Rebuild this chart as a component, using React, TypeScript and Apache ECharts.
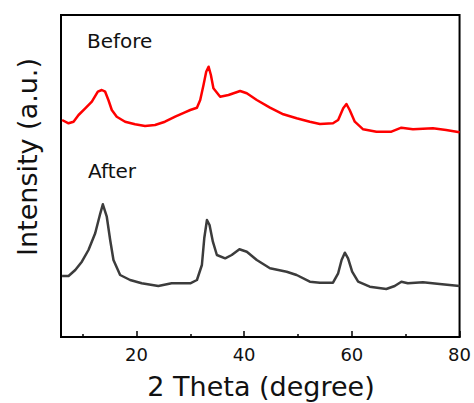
import React, { useEffect, useRef } from "react";
import * as echarts from "echarts";

const beforeX = [6.2, 7.4, 8.33, 9.26, 10.5, 11.73, 12.84, 13.58, 14.2, 14.8, 15.43, 16.35, 17.9, 19.75, 21.6, 23.46, 25.3, 27.2, 29.0, 30.0, 31.24, 31.85, 32.46, 32.96, 33.4, 33.83, 34.3, 35.55, 37.1, 39.26, 40.5, 42.35, 44.8, 47.28, 49.75, 52.2, 54.07, 56.5, 57.46, 58.4, 59.0, 59.6, 60.55, 62.1, 64.57, 67.35, 69.2, 71.35, 75.06, 77.5, 80];
const beforeY = [217, 213.7, 215.3, 222, 228.7, 235.3, 245.3, 247, 245.3, 237, 227, 220.3, 215.3, 212.7, 211, 212, 215.3, 220.3, 224.7, 227, 229.3, 237, 252, 265.3, 270.3, 262, 248.7, 240.3, 242, 246, 243.7, 237, 229.3, 222.7, 218.7, 215.3, 213, 213.7, 217, 228.7, 233, 227, 215.3, 207.7, 205.3, 205.3, 209.3, 207.7, 208.7, 207, 204.7];
const afterX = [6.2, 7.4, 8.65, 9.87, 11.1, 12.35, 13.3, 13.77, 14.5, 15.13, 15.74, 16.98, 18.83, 20.98, 24.07, 26.54, 29.0, 30.0, 31.24, 32.16, 32.6, 33.1, 33.58, 34.2, 34.94, 36.48, 37.7, 39.13, 40.5, 42.35, 44.8, 47.9, 49.75, 52.2, 54.07, 56.5, 57.46, 58.1, 58.7, 59.3, 60.06, 61.17, 63.33, 66.4, 67.96, 69.2, 70.4, 73.2, 76.3, 80];
const afterY = [61, 61, 67, 75.3, 87, 103.7, 123.7, 132.7, 120.3, 97, 77, 62, 57, 53.7, 51, 53.7, 53.7, 53.7, 57, 72, 98.7, 117, 112, 95.3, 82, 78.7, 82, 87.7, 85.3, 77, 68.7, 65.3, 62, 55.3, 54.3, 54.3, 63.7, 77, 84.3, 78.7, 65.3, 55.3, 50.3, 48, 51, 55.3, 53.7, 54.7, 53, 51];
const majorTicks = [20, 40, 60, 80];
const minorTicks = [10, 30, 50, 70];
const xTitle = "2 Theta (degree)";
const yTitle = "Intensity (a.u.)";
const labels = ["Before", "After"];

export default function App() {
  const ref = useRef<HTMLDivElement>(null);
  useEffect(() => {
    const chart = echarts.init(ref.current!, null, { renderer: "svg" });
    const font = "DejaVu Sans";
    chart.setOption({
      animation: false,
      grid: { left: 61, right: 14, top: 15, bottom: 66, show: true, borderColor: "#000", borderWidth: 2, backgroundColor: "transparent" },
      xAxis: [
        {
          type: "value", min: 6, max: 80,
          axisLine: { show: true, lineStyle: { color: "#000", width: 2 } },
          axisTick: { show: true, inside: true, length: 6, lineStyle: { color: "#000", width: 1.5 }, customValues: majorTicks },
          axisLabel: { show: true, customValues: majorTicks, margin: 8, color: "#111", fontSize: 18, fontFamily: font },
          splitLine: { show: false },
        },
        {
          type: "value", min: 6, max: 80, position: "bottom",
          axisLine: { show: false },
          axisTick: { show: true, inside: true, length: 3, lineStyle: { color: "#000", width: 1.5 }, customValues: minorTicks },
          axisLabel: { show: false },
          splitLine: { show: false },
        },
      ],
      yAxis: {
        type: "value", min: 0, max: 322,
        axisLine: { show: true, lineStyle: { color: "#000", width: 2 } },
        axisTick: { show: false }, axisLabel: { show: false }, splitLine: { show: false },
      },
      series: [
        { type: "line", data: beforeX.map((x, i) => [x, beforeY[i]]), showSymbol: false, symbol: "none", lineStyle: { color: "#ff0000", width: 2.5, join: "round" } },
        { type: "line", data: afterX.map((x, i) => [x, afterY[i]]), showSymbol: false, symbol: "none", lineStyle: { color: "#3c3c3c", width: 2.5, join: "round" } },
      ],
      graphic: [
        { type: "text", left: 87, top: 31, style: { text: labels[0], fontSize: 20, fontFamily: font, fill: "#111" } },
        { type: "text", left: 88, top: 161, style: { text: labels[1], fontSize: 20, fontFamily: font, fill: "#111" } },
        { type: "text", x: 261, y: 386, style: { text: xTitle, fontSize: 27, fontFamily: font, fill: "#111", align: "center", verticalAlign: "middle" } },
        { type: "text", x: 27, y: 157, rotation: Math.PI / 2, style: { text: yTitle, fontSize: 27, fontFamily: font, fill: "#111", align: "center", verticalAlign: "middle" } },
      ],
    });
    return () => chart.dispose();
  }, []);
  return <div ref={ref} style={{ width: 474, height: 403, position: "absolute", left: 0, top: 0 }} />;
}
